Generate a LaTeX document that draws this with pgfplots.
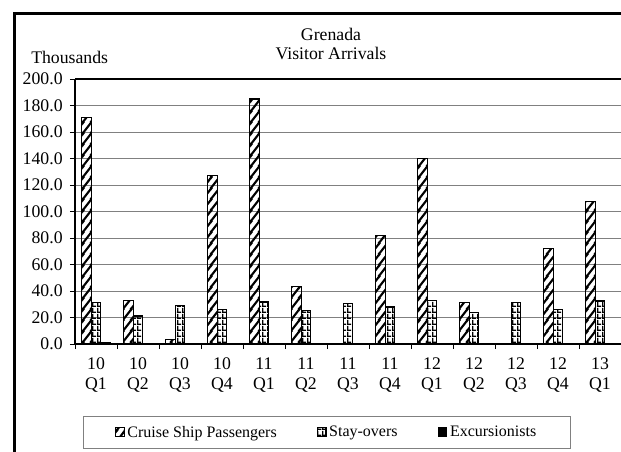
\documentclass[border=0pt]{standalone}
\usepackage{fontspec}
\setmainfont{Liberation Serif}
\usepackage{pgfplots}
\pgfplotsset{compat=1.18}
\usetikzlibrary{patterns.meta}

\definecolor{gridgray}{RGB}{128,128,128}

% thick steep stripes (cruise ship passengers)
\tikzdeclarepattern{
  name=cruisestripes,
  type=uncolored,
  bottom left={(0pt,0pt)},
  top right={(6.3pt,8.25pt)},
  tile size={(6.3pt,8.25pt)},
  code={
    \draw[line width=1.7pt] (-6.3pt,-8.25pt) -- (12.6pt,16.5pt);
    \draw[line width=1.7pt] (0pt,-8.25pt) -- (12.6pt,8.25pt);
    \draw[line width=1.7pt] (-6.3pt,0pt) -- (6.3pt,16.5pt);
  }
}
% small grid (stay-overs)
\tikzdeclarepattern{
  name=staygrid,
  type=uncolored,
  bottom left={(0pt,0pt)},
  top right={(3.45pt,4.1pt)},
  tile size={(3.45pt,4.1pt)},
  code={
    \fill (0pt,0pt) rectangle (1.05pt,4.1pt);
    \fill (0pt,0pt) rectangle (3.45pt,1.05pt);
  }
}

\pgfplotstableread{
x cruise stay excur
0 170.8 31.2 0.8
1 33.0 21.2 0.5
2 3.4 28.9 0.5
3 127.3 25.9 0.4
4 184.9 31.7 0.5
5 43.3 25.2 0.4
6 0.0 30.7 0.5
7 81.7 27.9 0.5
8 140.3 33.0 0.5
9 31.2 23.9 0.4
10 0.0 31.2 0.4
11 72.2 26.2 0.4
12 107.4 32.5 0.5
}\visitors

\begin{document}
\begin{tikzpicture}
\useasboundingbox (0,0) rectangle (465.75pt,-339pt);

% outer chart frame (left and top edges visible)
\draw[line width=2pt] (10.9pt,-339pt) -- (10.9pt,-10.3pt) -- (466pt,-10.3pt);

% titles
\node[anchor=base, font=\fontsize{13.3}{14}\selectfont, inner sep=0pt] at (248.25pt,-30.75pt) {Grenada};
\node[anchor=base, font=\fontsize{13.3}{14}\selectfont, inner sep=0pt] at (248.25pt,-45pt) {Visitor Arrivals};
\node[anchor=base west, font=\fontsize{13.3}{14}\selectfont, inner sep=0pt] at (23.25pt,-48pt) {Thousands};

\begin{axis}[
    at={(56.25pt,-258pt)}, anchor=south west,
    scale only axis,
    width=409.5pt, height=198.75pt,
    xmin=-0.5, xmax=12.5,
    ymin=0, ymax=200,
    ybar=0pt, bar width=7.1pt,
    axis x line*=bottom, axis y line*=left,
    axis line style={black, line width=1.1pt},
    tick align=outside,
    xtick={0,...,12},
    xticklabels={{10\\Q1},{10\\Q2},{10\\Q3},{10\\Q4},{11\\Q1},{11\\Q2},{11\\Q3},{11\\Q4},{12\\Q1},{12\\Q2},{12\\Q3},{12\\Q4},{13\\Q1}},
    minor xtick={-0.5,0.5,...,12.5},
    major x tick style={draw=none},
    minor tick length=3.75pt,
    major tick length=3.75pt,
    tick style={black, line width=0.75pt},
    ytick={0,20,...,200},
    ymajorgrids,
    grid style={gridgray, line width=0.75pt},
    yticklabel style={/pgf/number format/fixed, /pgf/number format/fixed zerofill, /pgf/number format/precision=1},
    /pgf/number format/assume math mode=true,
    tick label style={font=\fontsize{13.3}{15}\selectfont},
    xticklabel style={align=center, yshift=-3pt},
    yticklabel style={xshift=-2pt},
    legend columns=3,
    legend style={
        at={(0.4615,-0.334)}, anchor=center,
        draw=gridgray, line width=0.75pt,
        font=\fontsize{12}{13}\selectfont,
        inner xsep=24pt, inner ysep=5pt,
        /tikz/every even column/.append style={column sep=28pt},
    },
    legend image code/.code={\draw[#1, line width=0.9pt] (0pt,-3.2pt) rectangle (6.4pt,3.6pt);},
    after end axis/.code={
        \draw[black, line width=1.1pt] (rel axis cs:0,1) -- (rel axis cs:1,1);
    },
]
\addplot[draw=black, line width=0.9pt, pattern={cruisestripes}, pattern color=black] table[x=x, y=cruise] {\visitors};
\addlegendentry{Cruise Ship Passengers}
\addplot[draw=black, line width=0.9pt, pattern={staygrid}, pattern color=black] table[x=x, y=stay] {\visitors};
\addlegendentry{Stay-overs}
\addplot[draw=black, line width=0.9pt, fill=black] table[x=x, y=excur] {\visitors};
\addlegendentry{Excursionists}
\end{axis}
\end{tikzpicture}
\end{document}
